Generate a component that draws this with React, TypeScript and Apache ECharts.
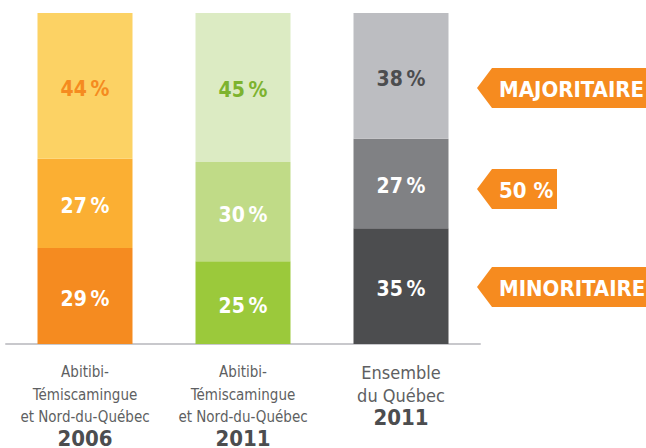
import React, { useEffect, useRef } from "react";
import * as echarts from "echarts";

const categoryLines = [
  ["Abitibi-", "Témiscamingue", "et Nord-du-Québec"],
  ["Abitibi-", "Témiscamingue", "et Nord-du-Québec"],
  ["Ensemble", "du Québec"],
];
const years = ["2006", "2011", "2011"];
const categories = categoryLines.map((l, i) => l.join(" ") + " " + years[i]);

const minoritaire = [29, 25, 35];
const cinquante = [27, 30, 27];
const majoritaire = [44, 45, 38];

const bottomColors = ["#F58B20", "#9BC93B", "#4C4D4F"];
const midColors = ["#FBAF33", "#C0DB87", "#808184"];
const topColors = ["#FCD264", "#DCEBC3", "#BCBDC1"];
const topLabelColors = ["#F58B20", "#7DB32F", "#4C4D4F"];

const legendTags = ["MAJORITAIRE", "50 %", "MINORITAIRE"];

const FONT = "'Liberation Sans Narrow', 'DejaVu Sans Condensed', 'Roboto', sans-serif";

export default function App() {
  const ref = useRef<HTMLDivElement>(null);
  useEffect(() => {
    if (!ref.current) return;
    const chart = echarts.init(ref.current, undefined, { renderer: "svg" });
    const mkLabel = () => ({
      show: true,
      position: "inside",
      offset: [0, 3],
      fontFamily: FONT,
      fontWeight: "bold",
      fontSize: 21,
      formatter: (p: any) => `${p.value}\u2009%`,
    });
    const mkData = (vals: number[], colors: string[], labelColors?: string[]) =>
      vals.map((v, i) => ({
        value: v,
        itemStyle: { color: colors[i] },
        label: { color: labelColors ? labelColors[i] : "#FFFFFF" },
      }));
    const tagYs = [88, 189, 287];
    const tagRight = [646, 557, 646];
    const graphics: any[] = [];
    legendTags.forEach((t, i) => {
      const cy = tagYs[i];
      graphics.push({
        type: "polygon",
        shape: {
          points: [
            [477, cy],
            [492, cy - 20],
            [tagRight[i], cy - 20],
            [tagRight[i], cy + 20],
            [492, cy + 20],
          ],
        },
        style: { fill: "#F68B1F" },
      });
      graphics.push({
        type: "text",
        x: 499,
        y: cy + 1,
        style: {
          text: t,
          fill: "#FFFFFF",
          font: `bold 22px ${FONT}`,
          textVerticalAlign: "middle",
        },
      });
    });
    chart.setOption({
      animation: false,
      grid: { top: 13, bottom: 104, left: 6, right: 166, containLabel: false, outerBoundsMode: "none" },
      xAxis: {
        type: "category",
        data: categories,
        axisLine: { show: true, lineStyle: { color: "#C8C8CC", width: 2 } },
        axisTick: { show: false },
        axisLabel: {
          margin: 17,
          interval: 0,
          formatter: (v: string, idx: number) => {
            const lines = categoryLines[idx];
            const style = idx === 2 ? "e" : "n";
            return lines.map((l) => `{${style}|${l}}`).join("\n") + `\n{y|${years[idx]}}`;
          },
          rich: {
            n: { fontFamily: FONT, fontSize: 15, lineHeight: 22.5, color: "#5E5F62" },
            e: { fontFamily: FONT, fontSize: 18, lineHeight: 23, color: "#5E5F62" },
            y: { fontFamily: FONT, fontSize: 22, fontWeight: "bold", lineHeight: 20, color: "#4C4D4F" },
          },
        },
      },
      yAxis: { type: "value", min: 0, max: 100, show: false },
      series: [
        { type: "bar", stack: "s", barWidth: 95, data: mkData(minoritaire, bottomColors), label: mkLabel() },
        { type: "bar", stack: "s", barWidth: 95, data: mkData(cinquante, midColors), label: mkLabel() },
        { type: "bar", stack: "s", barWidth: 95, data: mkData(majoritaire, topColors, topLabelColors), label: mkLabel() },
      ],
      graphic: graphics,
    });
    return () => chart.dispose();
  }, []);
  return <div ref={ref} style={{ width: 646, height: 448, position: "absolute", left: 0, top: 0 }} />;
}
